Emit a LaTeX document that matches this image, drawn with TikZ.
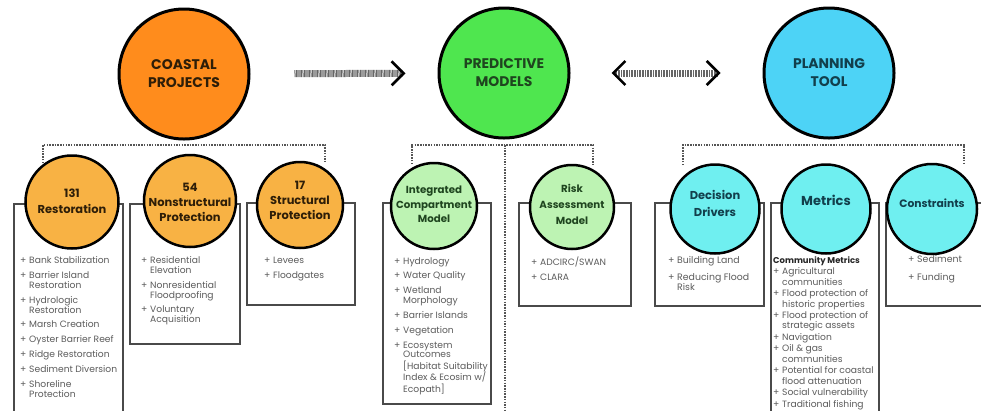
\documentclass[tikz,border=0pt]{standalone}
\usepackage{fontspec}
\setmainfont{Poppins}
\usetikzlibrary{arrows.meta}
\definecolor{bigor}{HTML}{FF8C1C}
\definecolor{biggr}{HTML}{4FE64F}
\definecolor{bigcy}{HTML}{4DD3F6}
\definecolor{subor}{HTML}{F8B244}
\definecolor{subgr}{HTML}{BDF3B3}
\definecolor{subcy}{HTML}{6FEFF0}
\definecolor{txtor}{HTML}{2E1E08}
\definecolor{txtgr}{HTML}{1F451F}
\definecolor{txtcy}{HTML}{123F4C}
\definecolor{listc}{HTML}{5C5C5C}
\definecolor{boxc}{HTML}{4A4A4A}
\definecolor{dotc}{HTML}{555555}
\newcommand\bu{\makebox[9bp][l]{+}}
\tikzset{
  bigc/.style={circle, draw=black, line width=3bp, minimum size=130bp, inner sep=0pt,
    font=\fontsize{14}{18}\selectfont\bfseries, align=center},
  subc/.style={circle, draw=black, line width=2.5bp, inner sep=0pt},
  subtxt/.style={font=\fontsize{11.5}{15}\selectfont\bfseries, align=center, inner sep=0pt},
  listbox/.style={draw=boxc, line width=1.8bp, rectangle, inner sep=0pt, anchor=north west},
  listtxt/.style={anchor=north west, inner sep=0pt, text=listc,
    font=\fontsize{9.2}{9.6}\selectfont},
  bracket/.style={draw=dotc, line width=1.5bp, dash pattern=on 1.5bp off 1.2bp},
  flow/.style={line width=7bp, draw=black!60, dash pattern=on 1bp off 0.6bp},
  chev/.tip={Straight Barb[length=12bp, width=24bp, line width=2.6bp, black]},
}
\begin{document}
\begin{tikzpicture}[x=1bp,y=-1bp]
\useasboundingbox (0,0) rectangle (981,410);
\fill[white] (0,0) rectangle (981,410);
\clip (0,0) rectangle (981,410);

% dotted brackets
\coordinate (b1a) at (43,163); \coordinate (b1b) at (325,145); \coordinate (b1c) at (325,161);
\draw[bracket] (b1a) |- (b1b) -- (b1c);
\coordinate (b2a) at (412,164); \coordinate (b2b) at (593,145); \coordinate (b2c) at (593,166);
\draw[bracket] (b2a) |- (b2b) -- (b2c);
\coordinate (b2m) at (505,145); \coordinate (b2e) at (505,412);
\draw[bracket] (b2m) -- (b2e);
\coordinate (b3a) at (683,165); \coordinate (b3b) at (964,145); \coordinate (b3c) at (964,165);
\draw[bracket] (b3a) |- (b3b) -- (b3c);

% big circles
\node[bigc, fill=bigor, text=txtor] (cp) at (184,74) {COASTAL\\PROJECTS};
\node[bigc, fill=biggr, text=txtgr] (pm) at (504,73) {PREDICTIVE\\MODELS};
\node[bigc, fill=bigcy, text=txtcy] (pt) at (829,73) {PLANNING\\TOOL};

\draw[flow, shorten <=44bp, shorten >=32bp, -chev] (cp) -- (pm);
\draw[flow, shorten <=41bp, shorten >=42bp, chev-chev] (pm) -- (pt);

% boxes
\node[listbox, minimum width=109bp, minimum height=230bp] (rb) at (13,203) {};
\node[listbox, minimum width=110bp, minimum height=140bp] (nb) at (129,203) {};
\node[listbox, minimum width=108bp, minimum height=102bp] (sb) at (246,202) {};
\node[listbox, minimum width=108bp, minimum height=201bp] (ib) at (382,202) {};
\node[listbox, minimum width=112bp, minimum height=103bp] (ab) at (518,202) {};
\node[listbox, minimum width=109bp, minimum height=103bp] (db) at (654,202) {};
\node[listbox, minimum width=108bp, minimum height=230bp] (mb) at (770,202) {};
\node[listbox, minimum width=120bp, minimum height=103bp] (kb) at (885,202) {};

% sub circles
\node[subc, fill=subor, minimum size=93bp] (rc) at (72,202) {};
\node[subc, fill=subor, minimum size=92bp] (nc) at (190,201) {};
\node[subc, fill=subor, minimum size=86bp] (sc) at (300,205) {};
\node[subc, fill=subgr, minimum size=86bp] (ic) at (434,206) {};
\node[subc, fill=subgr, minimum size=84bp] (ac) at (572,207) {};
\node[subc, fill=subcy, minimum size=89bp] (dc) at (715,209) {};
\node[subc, fill=subcy, minimum size=89bp] (mc) at (826,209) {};
\node[subc, fill=subcy, minimum size=90bp] (kc) at (932,209) {};

% sub circle texts
\node[subtxt, text=txtor] (rt) at (72,201.5) {131\\[1.5bp]Restoration};
\node[subtxt, text=txtor] (nt) at (190,202) {54\\Nonstructural\\Protection};
\node[subtxt, text=txtor] (st) at (300,200) {17\\Structural\\Protection};
\node[subtxt, text=txtgr, font=\fontsize{10.3}{14.5}\selectfont\bfseries] (it) at (434,204.5) {Integrated\\Compartment\\Model};
\node[subtxt, text=txtgr, font=\fontsize{10.3}{16}\selectfont\bfseries] (at) at (572,204) {Risk\\Assessment\\Model};
\node[subtxt, text=txtcy] (dt) at (715,203.5) {Decision\\[1.5bp]Drivers};
\node[subtxt, text=txtcy, font=\fontsize{13}{15}\selectfont\bfseries] (mt) at (826,200) {Metrics};
\node[subtxt, text=txtcy, font=\fontsize{10.8}{15}\selectfont\bfseries] (kt) at (932,203) {Constraints};

% lists
\node[listtxt] (rl) at (20,256.5) {\begin{tabular}{@{}l@{}l@{}}
\bu & Bank Stabilization\\[5bp]
\bu & Barrier Island\\ & Restoration\\[5bp]
\bu & Hydrologic\\ & Restoration\\[5bp]
\bu & Marsh Creation\\[5bp]
\bu & Oyster Barrier Reef\\[5bp]
\bu & Ridge Restoration\\[5bp]
\bu & Sediment Diversion\\[5bp]
\bu & Shoreline\\ & Protection
\end{tabular}};
\node[listtxt] (nl) at (141,256.5) {\begin{tabular}{@{}l@{}l@{}}
\bu & Residential\\ & Elevation\\[5bp]
\bu & Nonresidential\\ & Floodproofing\\[5bp]
\bu & Voluntary\\ & Acquisition
\end{tabular}};
\node[listtxt] (sl) at (264,256.5) {\begin{tabular}{@{}l@{}l@{}}
\bu & Levees\\[5bp]
\bu & Floodgates
\end{tabular}};
\node[listtxt, font=\fontsize{9.2}{9.8}\selectfont] (il) at (394,257) {\begin{tabular}{@{}l@{}l@{}}
\bu & Hydrology\\[5bp]
\bu & Water Quality\\[5bp]
\bu & Wetland\\ & Morphology\\[5bp]
\bu & Barrier Islands\\[5bp]
\bu & Vegetation\\[5bp]
\bu & Ecosystem\\ & Outcomes\\ & [Habitat Suitability\\ & Index \& Ecosim w/\\ & Ecopath]
\end{tabular}};
\node[listtxt] (al) at (531,257) {\begin{tabular}{@{}l@{}l@{}}
\bu & ADCIRC/SWAN\\[5bp]
\bu & CLARA
\end{tabular}};
\node[listtxt, font=\fontsize{9.4}{10}\selectfont] (dl) at (668,256) {\begin{tabular}{@{}l@{}l@{}}
\bu & Building Land\\[7bp]
\bu & Reducing Flood\\ & Risk
\end{tabular}};
\node[listtxt, font=\fontsize{9.2}{10.3}\selectfont] (ml) at (773,256.5) {\begin{tabular}{@{}l@{}l@{}}
\multicolumn{2}{@{}l@{}}{\fontsize{8.5}{10.3}\selectfont\bfseries\color{black!85}Community Metrics}\\[0.8bp]
\makebox[8bp][l]{+} & Agricultural\\ & communities\\[1.3bp]
\bu & Flood protection of\\ & historic properties\\[1.3bp]
\bu & Flood protection of\\ & strategic assets\\[1.3bp]
\bu & Navigation\\[1.3bp]
\bu & Oil \& gas\\ & communities\\[1.3bp]
\bu & Potential for coastal\\ & flood attenuation\\[1.3bp]
\bu & Social vulnerability\\[1.3bp]
\bu & Traditional fishing
\end{tabular}};
\node[listtxt, font=\fontsize{9.4}{10}\selectfont] (kl) at (908,255.5) {\begin{tabular}{@{}l@{}l@{}}
\bu & Sediment\\[8bp]
\bu & Funding
\end{tabular}};
\end{tikzpicture}
\end{document}
